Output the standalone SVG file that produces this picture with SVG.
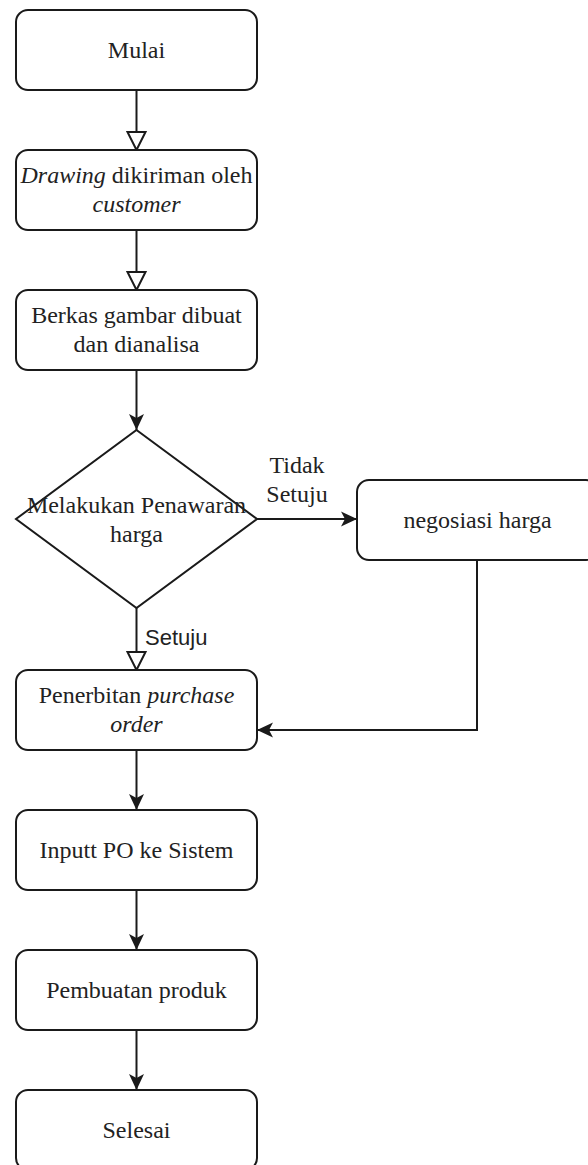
<svg xmlns="http://www.w3.org/2000/svg" width="588" height="1165" viewBox="0 0 588 1165">
<style>
.box{fill:#fff;stroke:#1a1a1a;stroke-width:2}
.t{font-family:'Liberation Serif',Tinos,'Times New Roman','DejaVu Serif',serif;font-size:24px;fill:#222;text-anchor:middle}
.i{font-style:italic}
.lbl{font-family:'Liberation Sans',Arimo,Arial,sans-serif;font-size:22px;fill:#222}
.c{fill:none;stroke:#1a1a1a;stroke-width:2}
</style>
<defs>
<marker id="fill" viewBox="0 0 16 16" refX="16" refY="8" markerWidth="16" markerHeight="16" markerUnits="userSpaceOnUse" orient="auto">
<path d="M0,0.5 L16,8 L0,15.5 L4,8 Z" fill="#1a1a1a"/>
</marker>
<marker id="hollow" viewBox="0 0 22 22" refX="20" refY="11" markerWidth="22" markerHeight="22" markerUnits="userSpaceOnUse" orient="auto">
<path d="M2,2 L20,11 L2,20 Z" fill="#fff" stroke="#1a1a1a" stroke-width="2"/>
</marker>
</defs>
<rect width="588" height="1165" fill="#fff"/>
<g id="connectors">
<path class="c" d="M136.5,90 V150" marker-end="url(#hollow)"/>
<path class="c" d="M136.5,230 V290" marker-end="url(#hollow)"/>
<path class="c" d="M136.5,370 V430" marker-end="url(#fill)"/>
<path class="c" d="M257,519 H357" marker-end="url(#fill)"/>
<path class="c" d="M136.5,608 V670" marker-end="url(#hollow)"/>
<path class="c" d="M477,560 V730 H257" marker-end="url(#fill)"/>
<path class="c" d="M136.5,750 V810" marker-end="url(#fill)"/>
<path class="c" d="M136.5,890 V950" marker-end="url(#fill)"/>
<path class="c" d="M136.5,1030 V1090" marker-end="url(#fill)"/>
<text class="t" x="297" y="473">Tidak</text>
<text class="t" x="297" y="502">Setuju</text>
<text class="lbl" x="145" y="645">Setuju</text>
</g>
<g id="mulai">
<rect class="box" x="16" y="10" width="241" height="80" rx="12"/>
<text class="t" x="136.5" y="58">Mulai</text>
</g>
<g id="drawing">
<rect class="box" x="16" y="150" width="241" height="80" rx="12"/>
<text class="t" x="136.5" y="183"><tspan class="i">Drawing</tspan> dikiriman oleh</text>
<text class="t i" x="136.5" y="212">customer</text>
</g>
<g id="berkas">
<rect class="box" x="16" y="290" width="241" height="80" rx="12"/>
<text class="t" x="136.5" y="323">Berkas gambar dibuat</text>
<text class="t" x="136.5" y="352">dan dianalisa</text>
</g>
<g id="penawaran">
<path class="box" d="M136.5,430 L257,519 L136.5,608 L16,519 Z"/>
<text class="t" x="136.5" y="513">Melakukan Penawaran</text>
<text class="t" x="136.5" y="542">harga</text>
</g>
<g id="negosiasi">
<rect class="box" x="357" y="480" width="241" height="80" rx="12"/>
<text class="t" x="477.5" y="528">negosiasi harga</text>
</g>
<g id="penerbitan">
<rect class="box" x="16" y="670" width="241" height="80" rx="12"/>
<text class="t" x="136.5" y="703">Penerbitan <tspan class="i">purchase</tspan></text>
<text class="t i" x="136.5" y="732">order</text>
</g>
<g id="input">
<rect class="box" x="16" y="810" width="241" height="80" rx="12"/>
<text class="t" x="136.5" y="858">Inputt PO ke Sistem</text>
</g>
<g id="pembuatan">
<rect class="box" x="16" y="950" width="241" height="80" rx="12"/>
<text class="t" x="136.5" y="998">Pembuatan produk</text>
</g>
<g id="selesai">
<rect class="box" x="16" y="1090" width="241" height="80" rx="12"/>
<text class="t" x="136.5" y="1138">Selesai</text>
</g>
</svg>
